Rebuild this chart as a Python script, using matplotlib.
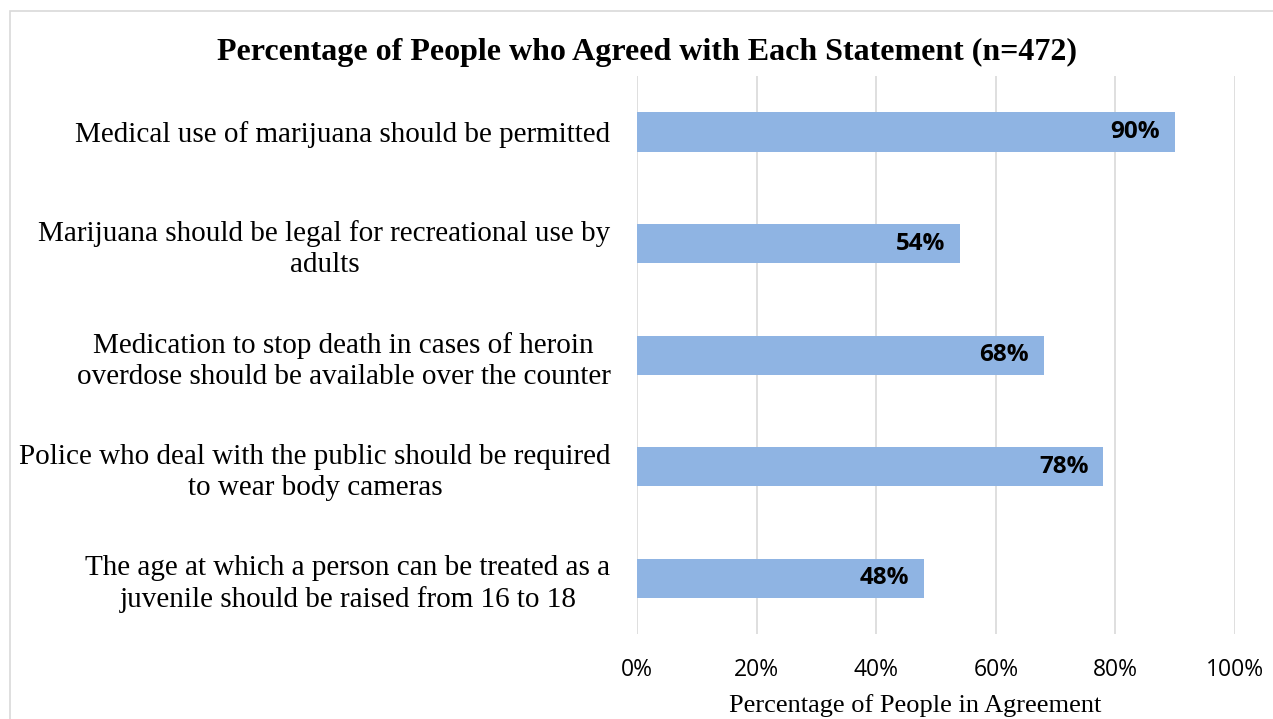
import numpy as np
import matplotlib.pyplot as plt
from matplotlib.patches import Rectangle
from matplotlib.ticker import FuncFormatter

statements = [
    "Medical use of marijuana should be permitted",
    "Marijuana should be legal for recreational use by\nadults",
    "Medication to stop death in cases of heroin\noverdose should be available over the counter",
    "Police who deal with the public should be required\nto wear body cameras",
    "The age at which a person can be treated as a\njuvenile should be raised from 16 to 18",
]
agree = [90, 54, 68, 78, 48]
bar_labels = ["90%", "54%", "68%", "78%", "48%"]
ticks = [0, 20, 40, 60, 80, 100]

fig = plt.figure(figsize=(12.73, 7.19), dpi=100)
ax = fig.add_axes([0.5004, 0.118, 0.4698, 0.776])

# light chart-area border
fig.patches.append(Rectangle((10/1273, -0.01), 1.0, 1 - 11/719 + 0.01,
                             transform=fig.transFigure, fill=False,
                             edgecolor='#d9d9d9', linewidth=1.2))

y = np.arange(len(statements))
ax.barh(y, agree, height=0.35, color='#8fb4e3', zorder=2)
for yi, v, lab in zip(y, agree, bar_labels):
    ax.text(v - 2.5, yi, lab, ha='right', va='center', fontsize=17.5,
            fontweight='bold', family='Open Sans', color='black', zorder=3)

ax.set_ylim(len(statements) - 0.5, -0.5)
ax.set_xlim(0, 100)
ax.set_xticks(ticks)
ax.xaxis.set_major_formatter(FuncFormatter(lambda v, p: f"{v:.0f}%"))
ax.set_yticks(y)
ax.set_yticklabels(statements, family='Liberation Serif', fontsize=21,
                   multialignment='center', linespacing=1.25)
for t in ax.get_xticklabels():
    t.set_family('Open Sans')
    t.set_fontsize(16.5)
ax.tick_params(axis='both', length=0)
ax.tick_params(axis='y', pad=19)
ax.tick_params(axis='x', pad=17)
ax.grid(axis='x', color='#d9d9d9', linewidth=1.2, zorder=0)
for s in ax.spines.values():
    s.set_visible(False)

ax.set_xlabel("Percentage of People in Agreement", family='Liberation Serif',
              fontsize=19)
ax.xaxis.set_label_coords(0.465, -0.108)
fig.text(0.508, 0.927, "Percentage of People who Agreed with Each Statement (n=472)",
         ha='center', va='center', family='Liberation Serif', fontweight='bold',
         fontsize=23)

fig.savefig("out.png", dpi=100)
